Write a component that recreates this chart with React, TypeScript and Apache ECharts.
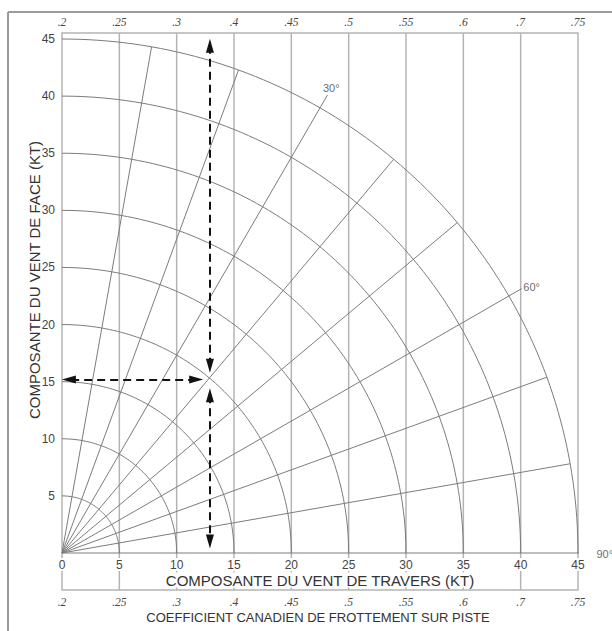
import React, { useEffect, useRef } from 'react';
import * as echarts from 'echarts';

// ---- data ----
const CROSSWIND_TICKS = [0, 5, 10, 15, 20, 25, 30, 35, 40, 45];
const HEADWIND_MIN = 0;
const HEADWIND_MAX = 45;
const TICK_STEP = 5;
const CRFI_LABELS = ['.2', '.25', '.3', '.4', '.45', '.5', '.55', '.6', '.7', '.75'];
const ARC_RADII = [5, 10, 15, 20, 25, 30, 35, 40, 45];
const RADIAL_ANGLES = [10, 20, 30, 40, 50, 60, 70, 80, 90];
const LABELED_ANGLES = [30, 60, 90];
const OUTER_RADIUS = 45;
const LABELED_EXTENT = 46.3;
const GRID_LINE_TOP = 45.53;
const GRID_LINE_BOTTOM = -3.24;
// dashed example arrows: [from, to] (both ends with arrowheads)
const ARROW_SEGMENTS: number[][][] = [
  [[12.9, 16.4], [12.9, 44.4]],
  [[12.9, 13.8], [12.9, 1.0]],
  [[11.7, 15.2], [0.6, 15.2]],
];

const TITLE_X = 'COMPOSANTE DU VENT DE TRAVERS (KT)';
const TITLE_Y = 'COMPOSANTE DU VENT DE FACE (KT)';
const TITLE_CRFI = 'COEFFICIENT CANADIEN DE FROTTEMENT SUR PISTE';

const SANS = '"Liberation Sans", Arial, sans-serif';
const SERIF = '"Liberation Serif", "Times New Roman", serif';

const rad = (d: number) => (d * Math.PI) / 180;
const polar = (r: number, deg: number) => [r * Math.sin(rad(deg)), r * Math.cos(rad(deg))];

export default function App() {
  const ref = useRef<HTMLDivElement>(null);

  useEffect(() => {
    if (!ref.current) return;
    const chart = echarts.init(ref.current, undefined, { renderer: 'svg' });

    const series: any[] = [];

    // vertical CRFI grid lines
    CROSSWIND_TICKS.forEach((v) => {
      series.push({
        type: 'line',
        z: 1,
        data: [[v, GRID_LINE_BOTTOM], [v, GRID_LINE_TOP]],
        showSymbol: false,
        clip: false,
        silent: true,
        lineStyle: { color: '#b4b4b4', width: 1.5 },
      });
    });

    // arcs
    ARC_RADII.forEach((r) => {
      const pts: number[][] = [];
      for (let d = 0; d <= 90; d += 1) pts.push(polar(r, d));
      series.push({
        type: 'line',
        z: 2,
        data: pts,
        showSymbol: false,
        clip: false,
        silent: true,
        lineStyle: { color: '#7c7c7c', width: 1 },
      });
    });

    // radial lines
    RADIAL_ANGLES.forEach((a) => {
      const len = LABELED_ANGLES.includes(a) ? LABELED_EXTENT : OUTER_RADIUS;
      series.push({
        type: 'line',
        z: 2,
        data: [[0, 0], polar(len, a)],
        showSymbol: false,
        clip: false,
        silent: true,
        lineStyle: { color: '#7c7c7c', width: 1 },
      });
    });

    // angle labels
    const labelOffsets: Record<number, number[]> = { 30: [-5, -7], 60: [1, -2], 90: [3, 1] };
    series.push({
      type: 'scatter',
      z: 3,
      symbolSize: 1,
      itemStyle: { color: 'rgba(0,0,0,0)' },
      clip: false,
      silent: true,
      data: LABELED_ANGLES.map((a) => ({
        value: polar(LABELED_EXTENT, a),
        label: {
          show: true,
          position: 'right',
          distance: 0,
          offset: labelOffsets[a],
          formatter: `${a}°`,
          color: '#444',
          fontSize: 11,
          fontFamily: SANS,
        },
      })),
    });

    // dashed arrows
    series.push({
      type: 'line',
      z: 5,
      data: [],
      silent: true,
      markLine: {
        silent: true,
        symbol: ['triangle', 'triangle'],
        symbolSize: [8, 14],
        label: { show: false },
        emphasis: { disabled: true },
        lineStyle: { color: '#111', width: 2, type: [8, 5] },
        data: ARROW_SEGMENTS.map(([p, q]) => [{ coord: p }, { coord: q }]),
      },
    });

    const crfiAxis = (position: 'top' | 'bottom', offset: number, margin: number) => ({
      type: 'value',
      position,
      offset,
      min: CROSSWIND_TICKS[0],
      max: CROSSWIND_TICKS[CROSSWIND_TICKS.length - 1],
      interval: TICK_STEP,
      axisLine: { show: true, onZero: false, lineStyle: { color: '#b4b4b4', width: 1.5 } },
      axisTick: { show: false },
      splitLine: { show: false },
      axisLabel: {
        margin,
        color: '#444',
        fontSize: 11.5,
        fontStyle: 'italic',
        fontFamily: SERIF,
        formatter: (v: number) => CRFI_LABELS[Math.round(v / TICK_STEP)] ?? '',
      },
    });

    chart.setOption({
      animation: false,
      grid: { left: 62, right: 34, top: 39, bottom: 78, containLabel: false },
      xAxis: [
        {
          type: 'value',
          position: 'bottom',
          z: 10,
          min: CROSSWIND_TICKS[0],
          max: CROSSWIND_TICKS[CROSSWIND_TICKS.length - 1],
          interval: TICK_STEP,
          axisLine: { show: false, onZero: false },
          axisTick: { show: false },
          splitLine: { show: false },
          axisLabel: {
            margin: 5,
            color: '#444',
            fontSize: 12,
            fontFamily: SANS,
            backgroundColor: '#fff',
            padding: [1, 1, 0, 1],
          },
        },
        crfiAxis('top', 6, 5),
        crfiAxis('bottom', 37, 6),
      ],
      yAxis: {
        type: 'value',
        min: HEADWIND_MIN,
        max: HEADWIND_MAX,
        interval: TICK_STEP,
        axisLine: { show: false, onZero: false },
        axisTick: { show: false },
        splitLine: { show: false },
        axisLabel: {
          margin: 7,
          color: '#444',
          fontSize: 12,
          fontFamily: SANS,
          formatter: (v: number) => (v === 0 ? '' : String(v)),
        },
      },
      graphic: [
        { type: 'line', shape: { x1: 8, y1: 12, x2: 612, y2: 12 }, style: { stroke: '#9a9a9a', lineWidth: 2 }, silent: true },
        { type: 'line', shape: { x1: 8, y1: 12, x2: 8, y2: 631 }, style: { stroke: '#9a9a9a', lineWidth: 2 }, silent: true },
        {
          type: 'text', x: 320, y: 580, z: 100, silent: true,
          style: {
            text: TITLE_X, fontSize: 15, fontFamily: SANS, fill: '#333', align: 'center', verticalAlign: 'middle',
            backgroundColor: '#fff', padding: [0, 2],
          },
        },
        {
          type: 'text', x: 34, y: 280, rotation: Math.PI / 2, silent: true,
          style: { text: TITLE_Y, fontSize: 15, fontFamily: SANS, fill: '#333', align: 'center', verticalAlign: 'middle' },
        },
        {
          type: 'text', x: 318, y: 617, silent: true,
          style: { text: TITLE_CRFI, fontSize: 13, fontFamily: SANS, fill: '#333', align: 'center', verticalAlign: 'middle' },
        },
      ],
      series,
    });

    return () => chart.dispose();
  }, []);

  return (
    <div
      ref={ref}
      style={{ position: 'absolute', left: 0, top: 0, width: 612, height: 631, background: '#fff' }}
    />
  );
}
